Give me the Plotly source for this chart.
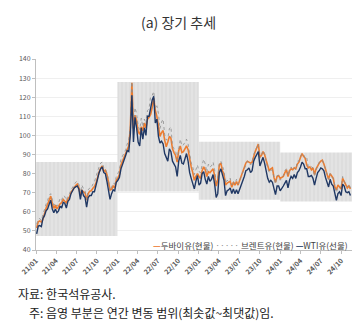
import pandas as pd
import plotly.graph_objects as go

# ---- weekly values (USD/bbl), one list per year ----
dubai_2021 = [51.5, 54.8, 55.2, 54.6,
              56.0, 59.5, 61.8, 64.0,
              66.5, 68.2, 64.5, 61.8, 63.5,
              61.5, 62.8, 64.2, 64.8,
              66.5, 65.5, 64.8, 66.8, 67.8,
              70.2, 71.5, 72.6, 73.8,
              74.5, 72.8, 68.5, 71.2,
              70.5, 69.8, 66.2, 69.5, 70.8,
              71.0, 72.3, 73.2, 75.0,
              78.5, 80.8, 82.8, 84.0,
              81.2, 81.8, 79.5, 75.2, 71.5,
              71.8, 73.5, 72.5, 76.5]
dubai_2022 = [77.8, 79.5, 84.5, 86.5, 88.2,
              90.5, 93.0, 94.5, 104.0,
              127.5, 103.5, 110.5, 108.0,
              102.0, 100.5, 104.5, 102.5,
              106.5, 104.0, 108.5, 109.5, 111.0,
              114.5, 119.5, 113.0, 110.0,
              105.0, 99.5, 101.5, 102.5,
              97.5, 94.0, 96.5, 99.5, 98.5,
              93.0, 91.0, 89.5, 86.0,
              92.0, 94.5, 91.0, 91.5, 93.0,
              94.5, 92.5, 87.5, 83.5,
              80.5, 76.5, 78.5, 80.0]
dubai_2023 = [78.5, 77.5, 81.5, 83.5, 82.0,
              78.5, 81.0, 80.5, 81.5,
              82.5, 79.0, 73.5, 76.5,
              84.5, 85.5, 81.5, 79.5,
              74.0, 75.0, 75.5, 76.0, 72.8,
              75.5, 74.0, 75.8, 74.0,
              76.5, 79.0, 81.0, 83.5, 85.5,
              86.5, 86.0, 85.5, 86.0,
              89.5, 91.5, 93.5, 95.5,
              88.5, 89.5, 91.5, 90.0, 87.0,
              84.5, 81.5, 82.5, 83.0,
              78.0, 75.5, 78.5, 79.0]
dubai_2024 = [77.5, 78.0, 78.5, 80.5, 82.0,
              78.5, 81.5, 82.5, 82.0,
              83.0, 82.5, 85.0, 86.0,
              88.5, 90.5, 89.0, 88.0, 84.5,
              83.0, 83.5, 82.0, 83.0,
              79.5, 82.5, 84.5, 85.5,
              86.5, 87.0, 85.0, 82.0, 79.5,
              77.0, 80.0, 78.5, 77.5,
              73.0, 71.5, 74.0, 73.0, 72.0,
              77.5, 76.0, 74.0, 72.5,
              73.5, 72.0]

brent_2021 = [53.5, 56.0, 56.5, 55.5,
              58.5, 61.5, 64.0, 66.0,
              68.5, 69.5, 66.0, 63.5, 64.5,
              63.0, 64.5, 67.0, 66.0,
              68.5, 68.0, 66.0, 68.5, 69.5,
              71.5, 73.0, 74.5, 75.5,
              76.0, 74.5, 70.0, 74.0,
              72.0, 71.0, 66.5, 71.5, 72.5,
              72.5, 74.5, 75.5, 78.5,
              81.5, 83.5, 85.5, 86.0,
              83.0, 82.5, 80.5, 77.0, 71.0,
              73.5, 75.0, 74.5, 78.5]
brent_2022 = [80.0, 82.0, 87.5, 89.0, 90.5,
              92.5, 95.5, 97.5, 104.5,
              128.0, 104.0, 114.5, 111.5,
              105.0, 103.0, 109.0, 104.5,
              108.5, 106.0, 113.0, 114.0, 120.5,
              121.0, 123.0, 114.0, 115.5,
              111.5, 103.5, 107.0, 108.5,
              100.5, 97.5, 98.5, 103.5, 104.5,
              94.5, 93.0, 92.0, 87.5,
              94.0, 98.0, 94.5, 95.0, 96.5,
              98.0, 95.5, 90.0, 85.5,
              83.5, 79.5, 82.0, 84.5]
brent_2023 = [81.0, 80.5, 84.5, 87.5, 85.0,
              80.5, 85.0, 83.5, 84.0,
              86.0, 82.0, 75.5, 77.5,
              85.5, 86.5, 84.5, 81.5,
              75.0, 76.5, 76.0, 77.5, 74.0,
              76.0, 74.5, 77.0, 74.5,
              76.5, 79.5, 80.5, 83.5, 85.5,
              86.5, 86.0, 84.5, 85.5,
              90.0, 92.0, 94.0, 95.5,
              88.0, 90.0, 92.0, 90.5, 86.5,
              82.5, 80.5, 82.0, 81.5,
              77.0, 74.5, 79.0, 79.0]
brent_2024 = [76.5, 77.5, 79.0, 81.5, 82.5,
              79.0, 82.0, 83.5, 82.0,
              83.0, 82.0, 86.5, 86.5,
              89.0, 90.5, 90.0, 88.0, 88.5,
              83.5, 83.0, 83.5, 83.0,
              78.5, 82.0, 84.0, 86.0,
              86.5, 87.0, 85.0, 82.0, 79.5,
              77.0, 80.0, 78.0, 77.5,
              73.5, 70.0, 73.0, 73.0, 72.5,
              78.5, 76.0, 74.5, 73.0,
              74.5, 72.5]

wti_2021 = [48.5, 52.5, 52.8, 52.3,
            56.5, 58.0, 60.5, 61.5,
            64.0, 66.0, 61.5, 59.5, 61.5,
            59.5, 60.5, 63.0, 62.0,
            65.0, 64.5, 62.0, 65.5, 66.5,
            69.5, 71.0, 72.5, 73.0,
            73.5, 72.0, 66.5, 71.5,
            68.5, 67.5, 62.5, 67.5, 68.5,
            68.5, 70.5, 70.5, 74.0,
            77.5, 80.5, 82.5, 83.5,
            80.5, 80.0, 76.0, 72.0, 66.5,
            69.5, 71.5, 71.0, 75.5]
wti_2022 = [76.5, 78.0, 82.5, 84.5, 86.5,
            89.5, 92.0, 91.5, 100.5,
            121.0, 96.5, 109.5, 104.0,
            96.5, 94.5, 104.0, 98.0,
            104.0, 100.0, 110.0, 110.0, 115.0,
            118.5, 120.5, 106.5, 108.5,
            99.5, 96.0, 97.0, 95.5,
            90.5, 88.5, 86.5, 93.0, 91.5,
            86.5, 85.0, 83.5, 78.5,
            86.5, 89.5, 85.5, 85.0, 87.5,
            90.5, 86.5, 80.5, 77.5,
            74.0, 72.0, 76.0, 79.0]
wti_2023 = [74.0, 75.0, 80.0, 81.0, 77.0,
            74.5, 78.5, 76.0, 77.0,
            79.5, 74.5, 67.5, 69.5,
            80.5, 82.5, 79.0, 76.5,
            68.5, 71.0, 71.5, 72.5, 69.5,
            72.0, 69.5, 71.5, 69.5,
            71.5, 74.0, 75.5, 78.5, 81.5,
            82.0, 83.0, 80.5, 81.5,
            86.5, 88.5, 90.5, 91.5,
            84.0, 86.0, 88.5, 85.5, 81.0,
            77.5, 75.5, 76.5, 75.5,
            71.5, 69.0, 73.5, 73.5]
wti_2024 = [71.0, 72.0, 73.5, 75.0, 76.5,
            72.5, 76.5, 78.5, 77.5,
            79.5, 77.5, 80.5, 81.5,
            83.5, 86.0, 85.0, 82.5, 82.5,
            78.5, 78.5, 79.0, 77.5,
            74.0, 77.5, 80.5, 81.5,
            83.0, 82.5, 81.5, 78.0, 75.5,
            73.0, 77.0, 74.5, 73.5,
            69.0, 66.0, 69.5, 70.5, 68.5,
            74.5, 73.5, 70.5, 70.0,
            70.5, 68.5]

year_first_monday = ["2021-01-04", "2022-01-03", "2023-01-02", "2024-01-01"]

# annual range bands (min ~ max)
band_start = ["2021-01-01", "2022-01-01", "2023-01-01", "2024-01-01"]
band_end = ["2022-01-01", "2023-01-01", "2024-01-01", "2024-11-18"]
band_lo = [47.3, 70.6, 66.3, 65.4]
band_hi = [86.1, 127.9, 96.7, 91.0]

x_range = ["2021-01-01", "2024-11-18"]


def build(series_by_year):
    xs, ys = [], []
    for start, vals in zip(year_first_monday, series_by_year):
        xs += list(pd.date_range(start, periods=len(vals), freq="7D"))
        ys += vals
    return xs, ys


dubai_x, dubai_y = build([dubai_2021, dubai_2022, dubai_2023, dubai_2024])
brent_x, brent_y = build([brent_2021, brent_2022, brent_2023, brent_2024])
wti_x, wti_y = build([wti_2021, wti_2022, wti_2023, wti_2024])

FONT = "Noto Sans CJK KR"
fig = go.Figure()

for s, e, lo, hi in zip(band_start, band_end, band_lo, band_hi):
    fig.add_trace(go.Scatter(
        x=[s, s, e, e, s], y=[lo, hi, hi, lo, lo],
        mode="lines", line=dict(width=0), fill="toself",
        fillcolor="#e3e3e3",
        fillpattern=dict(shape="|", bgcolor="#e3e3e3", fgcolor="#cbcbcb",
                         size=4, solidity=0.25),
        hoverinfo="skip", showlegend=False))

fig.add_trace(go.Scatter(x=dubai_x, y=dubai_y, mode="lines", name="두바이유(현물)",
                         line=dict(color="#ED7D31", width=1.6), showlegend=False))
fig.add_trace(go.Scatter(x=brent_x, y=brent_y, mode="lines", name="브렌트유(현물)",
                         line=dict(color="#8c8c8c", width=0.8, dash="dot"), showlegend=False))
fig.add_trace(go.Scatter(x=wti_x, y=wti_y, mode="lines", name="WTI유(선물)",
                         line=dict(color="#203864", width=1.4), showlegend=False))

legend_text = ("<span style='color:#ED7D31'><b>—</b></span>두바이유(현물) "
               "<span style='color:#8c8c8c'>·····</span> 브렌트유(현물) "
               "<span style='color:#203864'><b>—</b></span>WTI유(선물)")

fig.update_layout(
    width=357, height=330,
    margin=dict(l=36, r=5, t=59, b=80),
    paper_bgcolor="white", plot_bgcolor="white",
    font=dict(family=FONT, color="#595959"),
    title=dict(text="(a) 장기 추세", x=0.5, xanchor="center", y=1 - 23 / 330,
               yanchor="middle", font=dict(family=FONT, size=14, color="#333333")),
    xaxis=dict(type="date", range=x_range, tick0="2021-01-01", dtick="M3",
               tickformat="%y/%m", tickangle=-45, showgrid=False,
               showline=True, linecolor="#bfbfbf", linewidth=1,
               ticks="outside", ticklen=3, tickcolor="#bfbfbf",
               tickfont=dict(size=7, color="#595959", family=FONT, weight="bold")),
    yaxis=dict(range=[40, 140], dtick=10, showgrid=True, gridcolor="#efefef",
               gridwidth=1, showline=True, linecolor="#bfbfbf", linewidth=1,
               ticks="outside", ticklen=3, tickcolor="#bfbfbf", zeroline=False,
               tickfont=dict(size=7, color="#595959", family=FONT)),
    annotations=[
        dict(text=legend_text, xref="paper", yref="paper", x=0.994, y=0.026,
             xanchor="right", yanchor="middle", showarrow=False,
             font=dict(size=8.5, color="#404040", family=FONT)),
        dict(text="자료: 한국석유공사.", xref="paper", yref="paper",
             x=(16 - 36) / 316, y=(250 - 293) / 191, xanchor="left", yanchor="middle",
             showarrow=False, font=dict(size=12, color="#222222", family=FONT)),
        dict(text="주: 음영 부분은 연간 변동 범위(최솟값~최댓값)임.", xref="paper", yref="paper",
             x=(27 - 36) / 316, y=(250 - 312) / 191, xanchor="left", yanchor="middle",
             showarrow=False, font=dict(size=12, color="#222222", family=FONT)),
    ],
)

fig.write_html("out.html")
